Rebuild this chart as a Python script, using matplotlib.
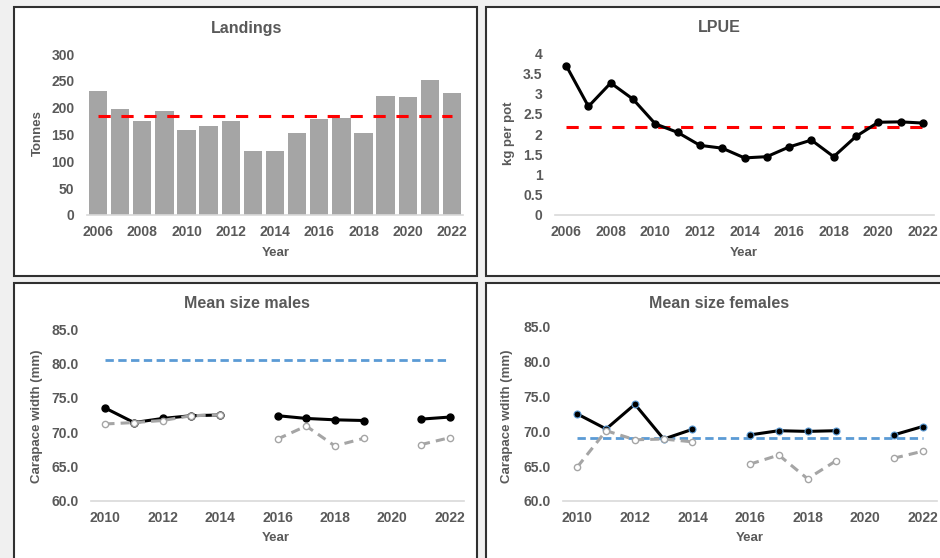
import matplotlib
matplotlib.use("Agg")
import matplotlib.pyplot as plt
import matplotlib.patches as patches
from matplotlib.ticker import FuncFormatter
import numpy as np

plt.rcParams['font.family'] = ['Liberation Sans', 'DejaVu Sans']
plt.rcParams['font.weight'] = 'bold'

nan = np.nan

# top panels: 2006-2022
years = np.arange(2006, 2023)
landings = [231, 198, 176, 194, 158, 166, 175, 119, 119, 153, 178, 180, 152, 222, 220, 252, 227]
landings_mean = 184
lpue = [3.69, 2.68, 3.26, 2.86, 2.25, 2.04, 1.72, 1.65, 1.41, 1.44, 1.68, 1.85, 1.44, 1.94, 2.29, 2.30, 2.27]
lpue_mean = 2.17

# bottom panels: 2010-2022, no data in 2015 and 2020
size_years = np.arange(2010, 2023)
males_a = [73.5, 71.4, 72.0, 72.4, 72.5, nan, 72.4, 72.0, 71.8, 71.7, nan, 71.9, 72.2]
males_b = [71.2, 71.4, 71.7, 72.4, 72.5, nan, 69.0, 70.9, 68.0, 69.1, nan, 68.2, 69.2]
males_ref = 80.5
females_a = [72.5, 70.35, 73.9, 68.9, 70.3, nan, 69.5, 70.1, 70.0, 70.1, nan, 69.5, 70.7]
females_b = [64.9, 70.1, 68.8, 68.9, 68.5, nan, 65.3, 66.6, 63.2, 65.8, nan, 66.15, 67.15]
females_ref = 69.1

TXT = '#595959'
GREY = '#a5a5a5'
BLUE = '#5b9bd5'
W, H = 940, 558

fig = plt.figure(figsize=(9.4, 5.58), dpi=100, facecolor='#f0f0f0')


def px(x, y):
    return x / W, 1 - y / H


def panel(x0, y0, x1, y1):
    rect = patches.Rectangle(px(x0, y1), (x1 - x0) / W, (y1 - y0) / H,
                             transform=fig.transFigure, facecolor='white',
                             edgecolor='#303030', linewidth=1.5, zorder=-1)
    fig.add_artist(rect)


def make_ax(x0, y0, x1, y1):
    ax = fig.add_axes([x0 / W, 1 - y1 / H, (x1 - x0) / W, (y1 - y0) / H])
    ax.set_facecolor('none')
    for s in ['top', 'right', 'left']:
        ax.spines[s].set_visible(False)
    ax.spines['bottom'].set_color('#d9d9d9')
    ax.spines['bottom'].set_linewidth(1.2)
    ax.tick_params(length=0, labelsize=10, labelcolor=TXT)
    ax.tick_params(axis='y', pad=9)
    ax.tick_params(axis='x', pad=7)
    return ax


def labels(ax, title, tpos, ylab, ypos, xpos):
    fig.text(*px(*tpos), title, ha='center', va='center', fontsize=11.5,
             color=TXT, fontweight='bold')
    ax.set_ylabel(ylab, fontsize=9.5, color=TXT, va='center', fontweight='bold')
    ax.yaxis.set_label_coords(*px(*ypos), transform=fig.transFigure)
    ax.set_xlabel('Year', fontsize=9.5, color=TXT, va='center', fontweight='bold')
    ax.xaxis.set_label_coords(*px(*xpos), transform=fig.transFigure)


panel(14, 7, 477, 276)
panel(486, 7, 960, 276)
panel(14, 283, 477, 580)
panel(486, 283, 960, 580)

# Landings
ax1 = make_ax(87, 54, 463, 215)
ax1.bar(years, landings, width=0.83, color=GREY)
ax1.plot([years[0], years[-1]], [landings_mean] * 2, color='red', lw=2.2,
         dashes=(4, 3.5), solid_capstyle='butt')
ax1.set_xlim(2005.5, 2022.5)
ax1.set_ylim(0, 300)
ax1.set_xticks(years[::2])
ax1.set_yticks(range(0, 301, 50))
labels(ax1, 'Landings', (247, 29), 'Tonnes', (38, 133), (276, 253))

# LPUE
ax2 = make_ax(555, 53, 934, 215)
ax2.plot([years[0], years[-1]], [lpue_mean] * 2, color='red', lw=2.2,
         dashes=(4, 3.5))
ax2.plot(years, lpue, color='black', lw=2.2, marker='o', ms=5)
ax2.set_xlim(2005.5, 2022.5)
ax2.set_ylim(0, 4)
ax2.set_xticks(years[::2])
ax2.set_yticks(np.arange(0, 4.01, 0.5))
ax2.yaxis.set_major_formatter(FuncFormatter(lambda v, p: '%g' % v))
labels(ax2, 'LPUE', (719, 28), 'kg per pot', (509, 133), (744, 253))

# Mean size males
ax3 = make_ax(91, 329, 464, 501)
ax3.plot([size_years[0], size_years[-1]], [males_ref] * 2, color=BLUE, lw=2,
         dashes=(3, 1.6))
ax3.plot(size_years, males_a, color='black', lw=2.2, marker='o', ms=5)
ax3.plot(size_years, males_b, color=GREY, lw=2.2, dashes=(3, 2), marker='o',
         ms=4.5, mfc='white', mec=GREY, mew=1)
ax3.set_xlim(2009.5, 2022.5)
ax3.set_ylim(60, 85)
ax3.set_xticks(size_years[::2])
ax3.set_yticks(range(60, 86, 5))
ax3.yaxis.set_major_formatter(FuncFormatter(lambda v, p: '%.1f' % v))
labels(ax3, 'Mean size males', (247, 304), 'Carapace width (mm)', (37, 416), (276, 538))

# Mean size females
ax4 = make_ax(563, 327, 937, 501)
ax4.plot([size_years[0], size_years[-1]], [females_ref] * 2, color=BLUE, lw=2,
         dashes=(3, 1.6))
ax4.plot(size_years, females_a, color='black', lw=2.2, marker='o', ms=5,
         mfc='black', mec=BLUE, mew=0.8)
ax4.plot(size_years, females_b, color=GREY, lw=2.2, dashes=(3, 2), marker='o',
         ms=4.5, mfc='white', mec=GREY, mew=1)
ax4.set_xlim(2009.5, 2022.5)
ax4.set_ylim(60, 85)
ax4.set_xticks(size_years[::2])
ax4.set_yticks(range(60, 86, 5))
ax4.yaxis.set_major_formatter(FuncFormatter(lambda v, p: '%.1f' % v))
labels(ax4, 'Mean size females', (719, 303), 'Carapace wdith (mm)', (507, 416), (750, 538))

fig.savefig('out.png', dpi=100, facecolor=fig.get_facecolor())
